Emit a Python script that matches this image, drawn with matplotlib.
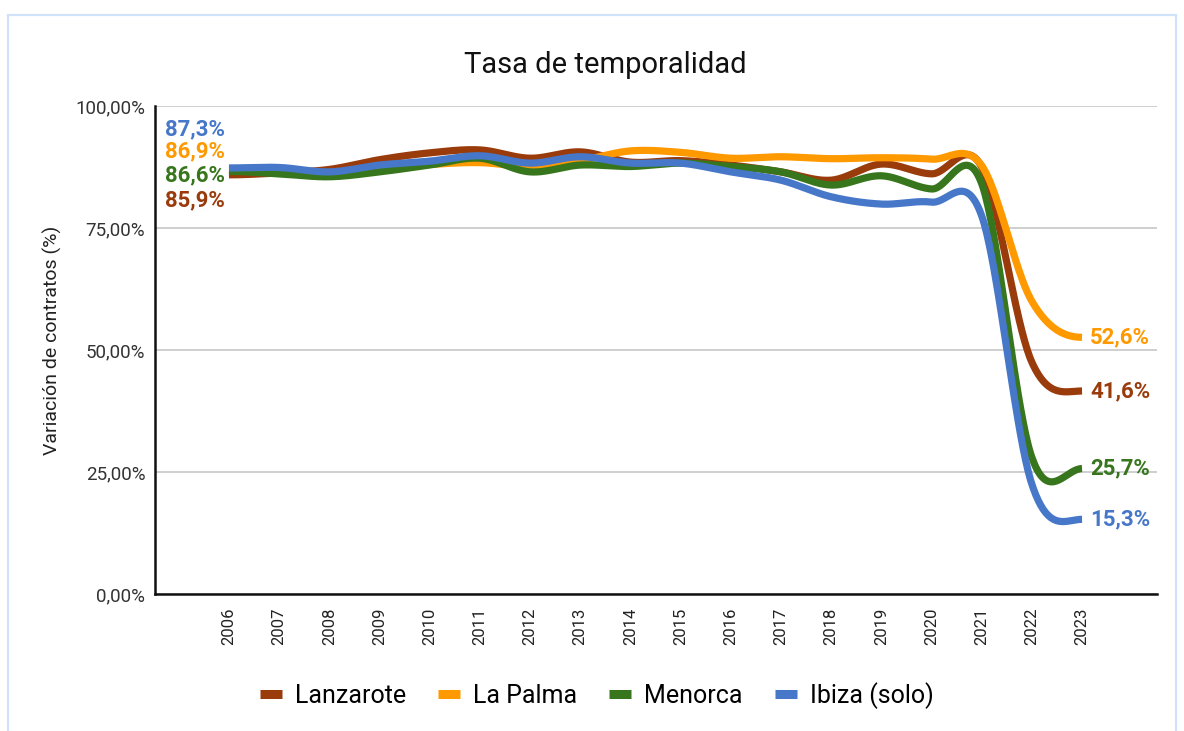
import numpy as np
import matplotlib
matplotlib.use("Agg")
import matplotlib.pyplot as plt
from matplotlib.lines import Line2D
from matplotlib.patches import Rectangle

years = list(range(2006, 2024))
lanzarote = [85.9, 86.3, 87.0, 89.0, 90.4, 91.0, 89.3, 90.6, 88.5, 88.8, 87.9, 86.5, 84.8, 88.1, 86.1, 87.5, 47.5, 41.6]
la_palma  = [86.9, 86.5, 86.0, 87.0, 88.0, 88.4, 87.6, 88.8, 90.8, 90.5, 89.3, 89.6, 89.2, 89.4, 89.1, 87.8, 60.0, 52.6]
menorca   = [86.6, 86.1, 85.5, 86.5, 87.9, 89.3, 86.5, 87.9, 87.6, 88.3, 87.6, 86.5, 83.8, 85.7, 83.0, 84.1, 28.0, 25.7]
ibiza     = [87.3, 87.4, 86.5, 87.9, 88.7, 89.8, 88.3, 89.6, 88.3, 88.3, 86.5, 84.8, 81.4, 79.9, 80.3, 77.5, 22.5, 15.3]

series_names = ["Lanzarote", "La Palma", "Menorca", "Ibiza (solo)"]
series_vals = [lanzarote, la_palma, menorca, ibiza]
colors = ["#9a3b0b", "#ff9900", "#38761d", "#4677c8"]
yticks = [0, 25, 50, 75, 100]
ytick_labels = ["0,00%", "25,00%", "50,00%", "75,00%", "100,00%"]

FONT = "Roboto"
plt.rcParams["font.family"] = [FONT, "DejaVu Sans"]


def smooth(x, y, n=40):
    x = np.asarray(x, float)
    y = np.asarray(y, float)
    m = np.zeros_like(y)
    m[1:-1] = (y[2:] - y[:-2]) / 2.0
    xs, ys = [], []
    for i in range(len(x) - 1):
        t = np.linspace(0, 1, n, endpoint=(i == len(x) - 2))
        h00 = 2 * t**3 - 3 * t**2 + 1
        h10 = t**3 - 2 * t**2 + t
        h01 = -2 * t**3 + 3 * t**2
        h11 = t**3 - t**2
        ys.append(h00 * y[i] + h10 * m[i] + h01 * y[i + 1] + h11 * m[i + 1])
        xs.append(x[i] + t * (x[i + 1] - x[i]))
    return np.concatenate(xs), np.concatenate(ys)


def fmt(v):
    return f"{v:.1f}".replace(".", ",") + "%"


fig = plt.figure(figsize=(11.84, 7.31), dpi=100)
fig.patch.set_facecolor("white")

# light blue frame
fig.patches.append(Rectangle((8 / 1184, -0.02), (1176 - 8) / 1184, 1 - 15 / 731 + 0.02,
                             transform=fig.transFigure, fill=False,
                             edgecolor="#cfe2f8", linewidth=1.6, zorder=0))

ax = fig.add_axes([155 / 1184, 1 - 594 / 731, (1157 - 155) / 1184, (594 - 106) / 731])
ax.set_xlim(years[0] - 1.474, years[-1] + 1.494)
ax.set_ylim(0, 100)

for vals, c in zip(series_vals, colors):
    sx, sy = smooth(years, vals)
    ax.plot(sx, sy, color=c, linewidth=5.2, solid_capstyle="butt", zorder=3)

ax.set_yticks(yticks)
ax.set_yticklabels(ytick_labels, fontsize=13.5, color="#333333")
ax.set_xticks(years)
ax.set_xticklabels([str(y) for y in years], rotation=90, fontsize=12, color="#222222")
ax.tick_params(axis="both", length=0)
ax.tick_params(axis="y", pad=7)
ax.tick_params(axis="x", pad=10)
ax.grid(axis="y", color="#cccccc", linewidth=1.3, zorder=1)
ax.set_axisbelow(True)
for s in ["top", "right"]:
    ax.spines[s].set_visible(False)
for s in ["left", "bottom"]:
    ax.spines[s].set_color("#111111")
    ax.spines[s].set_linewidth(1.8)
    ax.spines[s].set_zorder(4)

# start labels (stacked)
start_label_y = {"Ibiza (solo)": 95.3, "La Palma": 90.8, "Menorca": 85.7, "Lanzarote": 80.7}
for name, vals, c in zip(series_names, series_vals, colors):
    ax.annotate(fmt(vals[0]), xy=(years[0], start_label_y[name]), xytext=(-4, 0),
                textcoords="offset pixels", ha="right", va="center",
                fontsize=16, fontweight="bold", color=c, zorder=5)
    ax.annotate(fmt(vals[-1]), xy=(years[-1], vals[-1]), xytext=(8, 0),
                textcoords="offset pixels", ha="left", va="center",
                fontsize=16, fontweight="bold", color=c, zorder=5)

fig.text(0.511, 0.911, "Tasa de temporalidad", ha="center", va="center",
         fontsize=21, color="#111111")
fig.text(0.044, 0.535, "Variación de contratos (%)", rotation=90, ha="center",
         va="center", fontsize=14, color="#222222")

handles = [Line2D([0], [0], color=c, linewidth=6.5, solid_capstyle="butt") for c in colors]
fig.legend(handles, series_names, loc="center", bbox_to_anchor=(0.504, 0.049),
           ncol=4, frameon=False, fontsize=18, handlelength=0.88,
           handletextpad=0.52, columnspacing=1.28)

fig.savefig("out.png", dpi=100, facecolor="white")
